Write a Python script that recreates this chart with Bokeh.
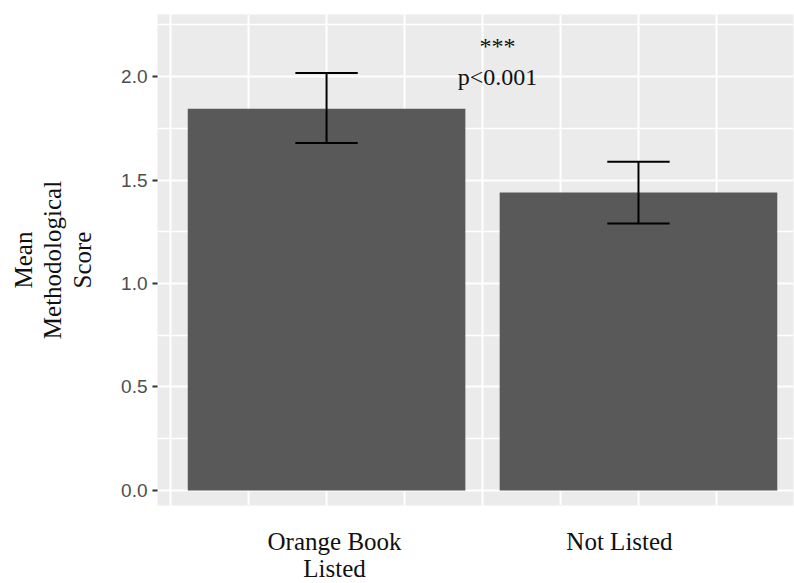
from bokeh.plotting import figure
from bokeh.models import FixedTicker, Range1d
from bokeh.layouts import column
from bokeh.core.properties import value
from bokeh.embed import file_html
from bokeh.resources import INLINE

categories = ["Orange Book\nListed", "Not Listed"]
positions = [1, 2]
means = [1.845, 1.44]
err_upper = [2.017, 1.588]
err_lower = [1.679, 1.29]
y_ticks = [0.0, 0.5, 1.0, 1.5, 2.0]
y_tick_labels = ["0.0", "0.5", "1.0", "1.5", "2.0"]
y_minor = [0.25, 0.75, 1.25, 1.75, 2.25]
x_grid = [0.5, 0.75, 1.0, 1.25, 1.5, 1.75, 2.0, 2.25]
annot_text = ["***", "p<0.001"]
annot_x = [1.548, 1.548]
annot_y = [2.15, 2.0]

xr = Range1d(0.458, 2.497)
p = figure(width=794, height=510, output_backend="svg", toolbar_location=None,
           x_range=xr, y_range=Range1d(-0.073, 2.30),
           min_border_left=157, min_border_top=14, min_border_right=1,
           min_border_bottom=5)
p.background_fill_color = "#ebebeb"
p.border_fill_color = "white"
p.outline_line_color = None

# grid
p.ygrid.ticker = FixedTicker(ticks=y_ticks, minor_ticks=y_minor)
p.ygrid.grid_line_color = "white"
p.ygrid.grid_line_width = 2
p.ygrid.minor_grid_line_color = "white"
p.ygrid.minor_grid_line_width = 1.5
p.xgrid.ticker = FixedTicker(ticks=x_grid)
p.xgrid.grid_line_color = "white"
p.xgrid.grid_line_width = 2

# bars
p.vbar(x=positions, top=means, width=0.89, fill_color="#595959", line_color=None)

# error bars
cap = 0.1
p.segment(x0=positions, x1=positions, y0=err_lower, y1=err_upper, line_color="black", line_width=2)
p.segment(x0=[x - cap for x in positions], x1=[x + cap for x in positions], y0=err_upper, y1=err_upper,
          line_color="black", line_width=2)
p.segment(x0=[x - cap for x in positions], x1=[x + cap for x in positions], y0=err_lower, y1=err_lower,
          line_color="black", line_width=2)

# annotation
p.text(x=annot_x, y=annot_y, text=annot_text, text_font=value("Liberation Serif"),
       text_font_size="24px", text_align="center", text_baseline="middle", text_color="#111111")

# y axis
p.yaxis.ticker = FixedTicker(ticks=y_ticks)
p.yaxis.major_label_overrides = {t: lab for t, lab in zip(y_ticks, y_tick_labels)}
p.yaxis.minor_tick_line_color = None
p.yaxis.axis_line_color = None
p.yaxis.major_tick_line_color = "#333333"
p.yaxis.major_tick_line_width = 2
p.yaxis.major_tick_in = 0
p.yaxis.major_tick_out = 5
p.yaxis.major_label_standoff = 5
p.yaxis.major_label_text_font = "Liberation Sans"
p.yaxis.major_label_text_font_size = "19px"
p.yaxis.major_label_text_color = "#4d4d4d"
p.yaxis.axis_label = "Mean\nMethodological\nScore"
p.yaxis.axis_label_text_font = "Liberation Serif"
p.yaxis.axis_label_text_font_style = "normal"
p.yaxis.axis_label_text_font_size = "25px"
p.yaxis.axis_label_text_line_height = 1.1
p.yaxis.axis_label_text_color = "#111111"
p.yaxis.axis_label_standoff = 22
p.xaxis.visible = False

# category labels under the panel (shares the x scale)
q = figure(width=794, height=73, output_backend="svg", toolbar_location=None,
           x_range=xr, y_range=Range1d(73, 0),
           min_border_left=157, min_border_top=0, min_border_right=1, min_border_bottom=0)
q.axis.visible = False
q.grid.visible = False
q.outline_line_color = None
q.background_fill_color = "white"
q.text(x=positions, y=[17, 17], text=categories, x_offset=[8, -19],
       text_font=value("Liberation Serif"), text_font_size="25px", text_align="center",
       text_baseline="top", text_line_height=1.0, text_color="#111111")

layout = column(p, q, spacing=0)
open("out.html", "w").write(file_html(layout, INLINE))
